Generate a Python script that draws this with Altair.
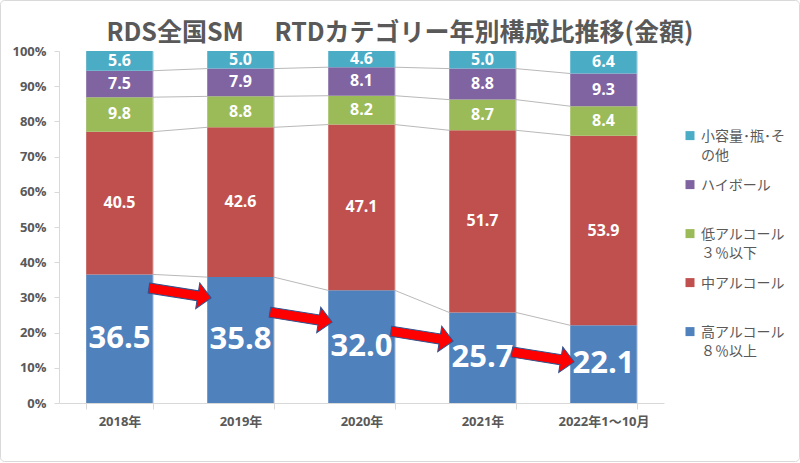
import altair as alt
import pandas as pd

years = ["2018年", "2019年", "2020年", "2021年", "2022年1～10月"]
# categories from bottom of the stack to top
categories = ["高アルコール|８％以上", "中アルコール", "低アルコール|３％以下", "ハイボール", "小容量･瓶･そ|の他"]
colors = ["#4F81BD", "#C0504D", "#9BBB59", "#8064A2", "#4BACC6"]

high = [36.5, 35.8, 32.0, 25.7, 22.1]
mid = [40.5, 42.6, 47.1, 51.7, 53.9]
low = [9.8, 8.8, 8.2, 8.7, 8.4]
highball = [7.5, 7.9, 8.1, 8.8, 9.3]
small = [5.6, 5.0, 4.6, 5.0, 6.4]

# red arrow annotations: level (share) at the gap between two years
arrow_levels = [0.3125, 0.244, 0.19, 0.131]

series = [high, mid, low, highball, small]

rows = []
cums = []
for i, yr in enumerate(years):
    vals = [s[i] for s in series]
    tot = sum(vals)
    c = 0.0
    bounds = []
    for k, v in enumerate(vals):
        y0 = c / tot
        c += v
        y1 = c / tot
        bounds.append(y1)
        rows.append({"year": yr, "cat": categories[k], "idx": k, "y0": y0, "y1": y1,
                     "ym": (y0 + y1) / 2, "label": f"{v:.1f}"})
    cums.append(bounds)
df = pd.DataFrame(rows)

lines = []
for i in range(len(years) - 1):
    for k in range(len(categories) - 1):
        lines.append({"x": years[i], "x2": years[i + 1], "y": cums[i][k], "y2": cums[i + 1][k]})
df_lines = pd.DataFrame(lines)

df_arrows = pd.DataFrame({"year": years[:-1], "lvl": arrow_levels})

FONT = "Open Sans, Noto Sans CJK JP"
GRAY = "#595959"
LIGHT = "#D9D9D9"

xscale = alt.Scale(domain=years, paddingInner=0.45, paddingOuter=0.225)
xaxis = alt.Axis(title=None, labelAngle=0, tickBand="extent", grid=True, gridColor=LIGHT,
                 domainColor=LIGHT, tickColor=LIGHT, tickSize=6, labelFont=FONT,
                 labelFontWeight="bold", labelColor=GRAY, labelFontSize=13, labelPadding=6)
yscale = alt.Scale(domain=[0, 1], nice=False)
yaxis = alt.Axis(title=None, values=[round(i / 10, 1) for i in range(11)], tickCount=11,
                 format=".0%", grid=False, labelOverlap=False, domainColor=LIGHT,
                 tickColor=LIGHT, tickSize=5, labelFont=FONT, labelFontWeight="bold",
                 labelColor=GRAY, labelFontSize=13, labelPadding=8)


def X(field):
    return alt.X(field, type="nominal", scale=xscale, axis=xaxis, sort=years)


def Y(field):
    return alt.Y(field, type="quantitative", scale=yscale, axis=yaxis)


legend_order = categories[::-1]
legend_colors = colors[::-1]

# square symbol shifted up so it sits beside the first line of each label
legend_symbol = "M-1,-2.2L1,-2.2L1,-0.2L-1,-0.2Z"

bars = alt.Chart(df).mark_bar().encode(
    x=X("year"),
    y=Y("y0"),
    y2="y1:Q",
    color=alt.Color("cat:N", scale=alt.Scale(domain=legend_order, range=legend_colors),
                    legend=alt.Legend(title=None, orient="none", legendX=624, legendY=83,
                                      labelExpr="split(datum.label, '|')",
                                      symbolType=legend_symbol, symbolSize=81, symbolStrokeWidth=0,
                                      labelFont="Noto Sans CJK JP", labelFontSize=14,
                                      labelBaseline="alphabetic",
                                      labelColor=GRAY, labelLimit=300, labelOffset=4,
                                      gridAlign="all", rowPadding=16, padding=0)),
)

seglines = alt.Chart(df_lines).mark_rule(color="#A6A6A6", strokeWidth=0.8, xOffset=33.3, x2Offset=-33.3).encode(
    x=X("x"),
    x2="x2:N",
    y=Y("y"),
    y2="y2:Q",
)

small_text = alt.Chart(df).transform_filter("datum.idx > 0").mark_text(
    color="white", font=FONT, fontWeight="bold", fontSize=16, baseline="middle"
).encode(
    x=X("year"),
    y=Y("ym"),
    text="label:N",
)

big_text = alt.Chart(df).transform_filter("datum.idx == 0").mark_text(
    color="white", font=FONT, fontWeight="bold", fontSize=31, baseline="middle"
).encode(
    x=X("year"),
    y=Y("ym"),
    text="label:N",
)

arrow_path = "M-1,-0.16 L0.57,-0.16 L0.57,-0.41 L1,0 L0.57,0.41 L0.57,0.16 L-1,0.16 Z"
arrows = alt.Chart(df_arrows).mark_point(
    shape=arrow_path, size=3969, filled=True, fill="#FF0000", stroke="#2F528F",
    strokeWidth=1, opacity=1, angle=9, xOffset=60.5
).encode(
    x=X("year"),
    y=Y("lvl"),
)

border = alt.Chart(alt.Data(values=[{}])).mark_rect(
    fillOpacity=0, stroke=LIGHT, strokeWidth=1, cornerRadius=4
).encode(
    x=alt.value(-58.5), x2=alt.value(740.5), y=alt.value(-50.5), y2=alt.value(410.5)
)

chart = alt.layer(border, bars, seglines, small_text, big_text, arrows).properties(
    width=605, height=352,
    autosize=alt.AutoSizeParams(type="none"),
    padding={"left": 59, "top": 51, "right": 136, "bottom": 60},
    title=alt.TitleParams("RDS全国SM　 RTDカテゴリー年別構成比推移(金額)", fontSize=25,
                          fontWeight="bold", color=GRAY, font="Noto Sans CJK JP",
                          anchor="middle", frame="bounds", baseline="alphabetic", offset=-66),
).configure(style={"guide-label": {"lineHeight": 18.5}}).configure_view(stroke=None)

chart.save("out.html", embed_options={"renderer": "svg", "actions": False})
